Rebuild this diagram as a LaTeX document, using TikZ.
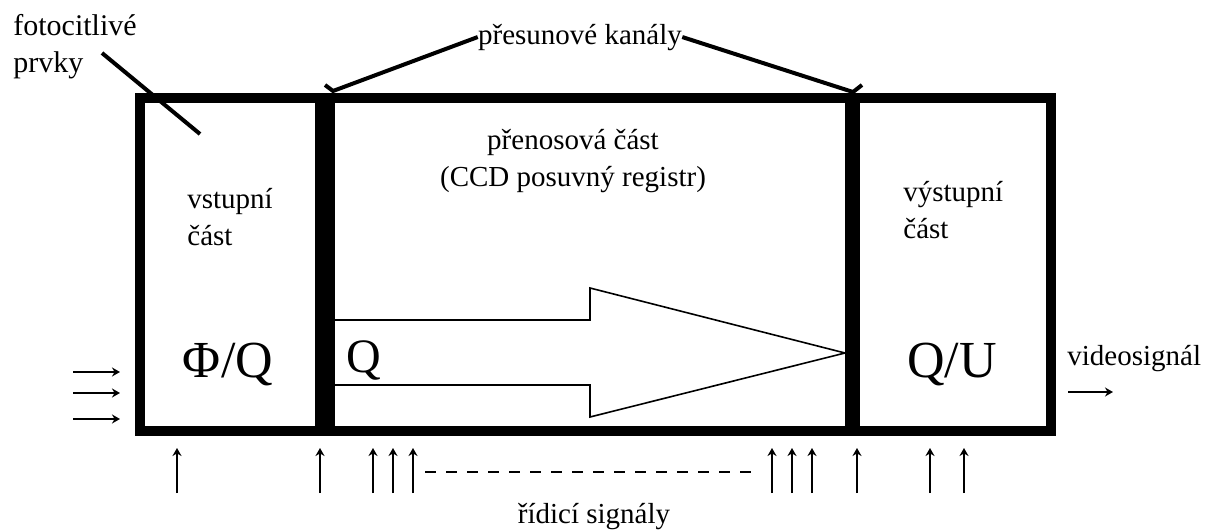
\documentclass[tikz,border=0pt]{standalone}
\usepackage{fontspec}
\setmainfont{Liberation Serif}
\usetikzlibrary{arrows.meta,fit}

\begin{document}
\begin{tikzpicture}[x=0.5pt,y=-0.5pt,sipka/.style = {line width=0.8pt,-{Stealth[length=4pt,width=4.5pt]}}]
				\tikzset{part/.style={draw=black,line width=5pt,inner sep=0pt}}
				\tikzset{popis/.style={inner sep=0pt,align=left,font=\fontsize{14.5}{18.5}\selectfont}}
				\tikzset{velke/.style={inner sep=0pt,font=\fontsize{26}{30}\selectfont}}
				\tikzset{odkaz/.style={line width=2pt}}

				\useasboundingbox (0,0) rectangle (1206,530);

				% Casti

				\node[part, fit={(140,98) (320,431)}] (vstup) {};
				\node[part, fit={(330,98) (850,431)}] (prenos) {};
				\node[part, fit={(855,98) (1051,431)}] (vystup) {};

				\draw [line width=0.8pt] (335,320) -- (590,320) -- (590,288) -- (845,353) -- (590,417) -- (590,385) -- (335,385);

				\node[popis, anchor=base west] (vstupT) at (187,245) {vstupní\\část};
				\node[popis, anchor=base, align=center] (prenosT) at (573,186) {přenosová část\\(CCD posuvný registr)};
				\node[popis, anchor=base west] (vystupT) at (903,238) {výstupní\\část};

				\node[velke, anchor=base] (fq) at (228,377) {Φ/Q};
				\node[velke, anchor=base, font=\fontsize{24}{28}\selectfont] (q) at (364,372) {Q};
				\node[velke, anchor=base] (qu) at (952,377) {Q/U};

				% Popisky

				\node[popis, anchor=base west, font=\fontsize{15}{18.5}\selectfont] (foto) at (13,72) {fotocitlivé\\prvky};
				\draw [odkaz] (102,53) -- (200,134);

				\node[popis, anchor=base] (kanaly) at (580,44) {přesunové kanály};
				\draw [odkaz] (kanaly.west) -- (333,91) -- ++(-8,-6);
				\draw [odkaz] (kanaly.east) -- (853,92) -- ++(9,-7);

				\node[popis, anchor=base west] (video) at (1067,365) {videosignál};
				\draw [sipka] (1068,392) -- (1113,392);

				\foreach \y in {372,393,419}
					\draw [sipka] (73,\y) -- (120,\y);

				\foreach \x in {177,320,373,393,413,772,792,812,857,930,964}
					\draw [sipka] (\x,493) -- (\x,448);
				\draw [line width=0.8pt, dash pattern=on 5.5pt off 5pt] (425,472) -- (755,472);

				\node[popis, anchor=base] (ridici) at (594,523) {řídicí signály};

			\end{tikzpicture}
\end{document}
